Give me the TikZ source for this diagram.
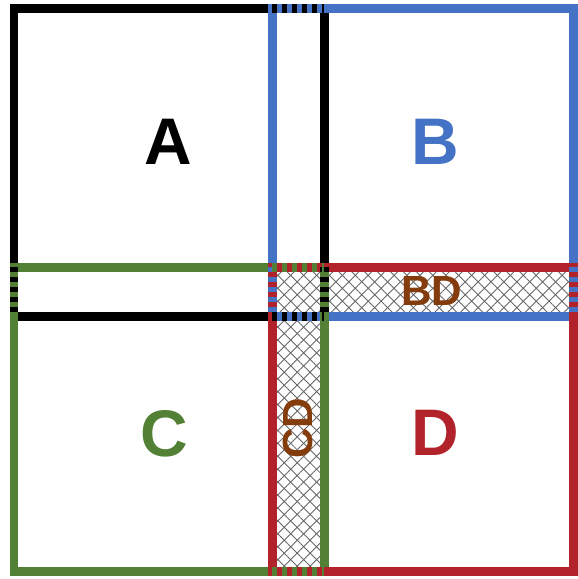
\documentclass[tikz,border=0pt]{standalone}
\usepackage{fontspec}
\setmainfont{Liberation Sans}
\usetikzlibrary{patterns.meta}
\definecolor{aBlue}{RGB}{68,114,196}
\definecolor{cGreen}{RGB}{82,128,52}
\definecolor{dRed}{RGB}{178,34,42}
\definecolor{ovBrown}{RGB}{132,60,12}
\tikzset{
  sqlabel/.style={font=\fontsize{37.5}{40}\selectfont\bfseries},
  ovlabel/.style={font=\fontsize{24}{26}\selectfont\bfseries, text=ovBrown},
  shared/.style={dash pattern=on 0.1cm off 0.1cm},
  hatchA/.style={pattern={Lines[angle=45,distance=5.2pt,line width=0.5pt]}, pattern color=gray!80!black},
  hatchB/.style={pattern={Lines[angle=-45,distance=5.2pt,line width=0.5pt]}, pattern color=gray!80!black}
}
\begin{document}
\begin{tikzpicture}[x=0.02cm, y=-0.02cm, line width=0.18cm]
\useasboundingbox (0,0) rectangle (578,579);
% overlap strips
\foreach \h in {hatchA,hatchB} {
  \fill[\h] (272,267) rectangle (573,316);
  \fill[\h] (272,316) rectangle (324,571);
}
% the four squares
\draw[black]  (14,8)    rectangle (324,316);
\draw[aBlue]  (272,8)   rectangle (573,316);
\draw[cGreen] (14,267)  rectangle (324,571);
\draw[dRed]   (272,267) rectangle (573,571);
% edges that two squares share
\draw[black, shared]  (272,8) -- (324,8);
\draw[black, shared]  (272,316) -- (324,316);
\draw[black, shared]  (14,267) -- (14,316);
\draw[black, shared]  (324,267) -- (324,316);
\draw[aBlue, shared]  (272,267) -- (272,316);
\draw[aBlue, shared]  (573,267) -- (573,316);
\draw[cGreen, shared] (272,267) -- (324,267);
\draw[cGreen, shared] (272,571) -- (324,571);
% labels
\node[sqlabel, text=black]  (A) at (168,142) {A};
\node[sqlabel, text=aBlue]  (B) at (435,142) {B};
\node[sqlabel, text=cGreen] (C) at (164,434) {C};
\node[sqlabel, text=dRed]   (D) at (435,433) {D};
\node[ovlabel] (BD) at (432,291) {BD};
\node[ovlabel, rotate=90] (CD) at (298,428) {CD};
\end{tikzpicture}
\end{document}
